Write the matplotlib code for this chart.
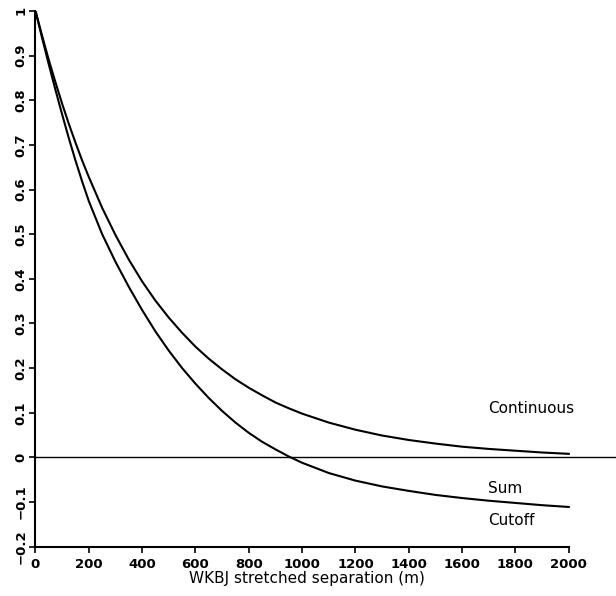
import numpy as np
import matplotlib
matplotlib.use("Agg")
import matplotlib.pyplot as plt
from matplotlib.ticker import FuncFormatter

# separation (m) and correlation values
sep = [0, 25, 50, 75, 100, 125, 150, 175, 200, 250, 300, 350, 400, 450,
       500, 550, 600, 650, 700, 750, 800, 850, 900, 950, 1000, 1100, 1200,
       1300, 1400, 1500, 1600, 1700, 1800, 1900, 2000]
continuous = [1.000, 0.944, 0.890, 0.840, 0.792, 0.747, 0.705, 0.665, 0.628,
              0.559, 0.498, 0.443, 0.394, 0.351, 0.313, 0.279, 0.248, 0.221,
              0.197, 0.175, 0.156, 0.139, 0.123, 0.110, 0.098, 0.078, 0.062,
              0.049, 0.039, 0.031, 0.024, 0.019, 0.015, 0.011, 0.008]
sum_cutoff = [1.000, 0.939, 0.880, 0.823, 0.768, 0.715, 0.665, 0.618, 0.574,
              0.500, 0.438, 0.382, 0.330, 0.282, 0.239, 0.200, 0.165, 0.133,
              0.104, 0.078, 0.055, 0.035, 0.018, 0.002, -0.012, -0.035,
              -0.052, -0.065, -0.075, -0.084, -0.091, -0.097, -0.102, -0.107,
              -0.111]

# curve labels: (text, x, y)
labels = [("Continuous", 1697, 0.109),
          ("Sum", 1697, -0.069),
          ("Cutoff", 1697, -0.141)]

fig = plt.figure(figsize=(6.16, 5.96), dpi=100)
ax = fig.add_axes([0.0576, 0.0827, 0.9424, 0.899])

ax.plot(sep, continuous, color="black", lw=1.5, solid_joinstyle="round")
ax.plot(sep, sum_cutoff, color="black", lw=1.5, solid_joinstyle="round")
ax.axhline(0, color="black", lw=1.0)

for txt, x, y in labels:
    ax.text(x, y, txt, fontsize=11, ha="left", va="center")

ax.set_xlim(0, 2177)
ax.set_ylim(-0.2, 1.0)

ax.spines["top"].set_visible(False)
ax.spines["right"].set_visible(False)
ax.spines["left"].set_linewidth(1.5)
ax.spines["bottom"].set_linewidth(1.5)
ax.spines["bottom"].set_bounds(0, 2000)

ax.set_xticks(np.arange(0, 2001, 200))
ax.set_yticks(np.round(np.arange(-0.2, 1.01, 0.1), 1))
ax.xaxis.set_major_formatter(FuncFormatter(lambda v, p: f"{v:g}"))
ax.yaxis.set_major_formatter(
    FuncFormatter(lambda v, p: f"{v:g}".replace("-", "\u2212")))

ax.tick_params(axis="both", direction="out", length=4, width=1.2,
               labelsize=9.5)
ax.tick_params(axis="x", pad=4)
ax.tick_params(axis="y", pad=2)
for lab in ax.get_xticklabels() + ax.get_yticklabels():
    lab.set_fontweight("bold")
for lab in ax.get_yticklabels():
    lab.set_rotation(90)
    lab.set_va("center")

ax.set_xlabel("WKBJ stretched separation (m)", fontsize=11)
ax.xaxis.set_label_coords(1018 / 2177, -0.045)

fig.savefig("out.png", dpi=100)
